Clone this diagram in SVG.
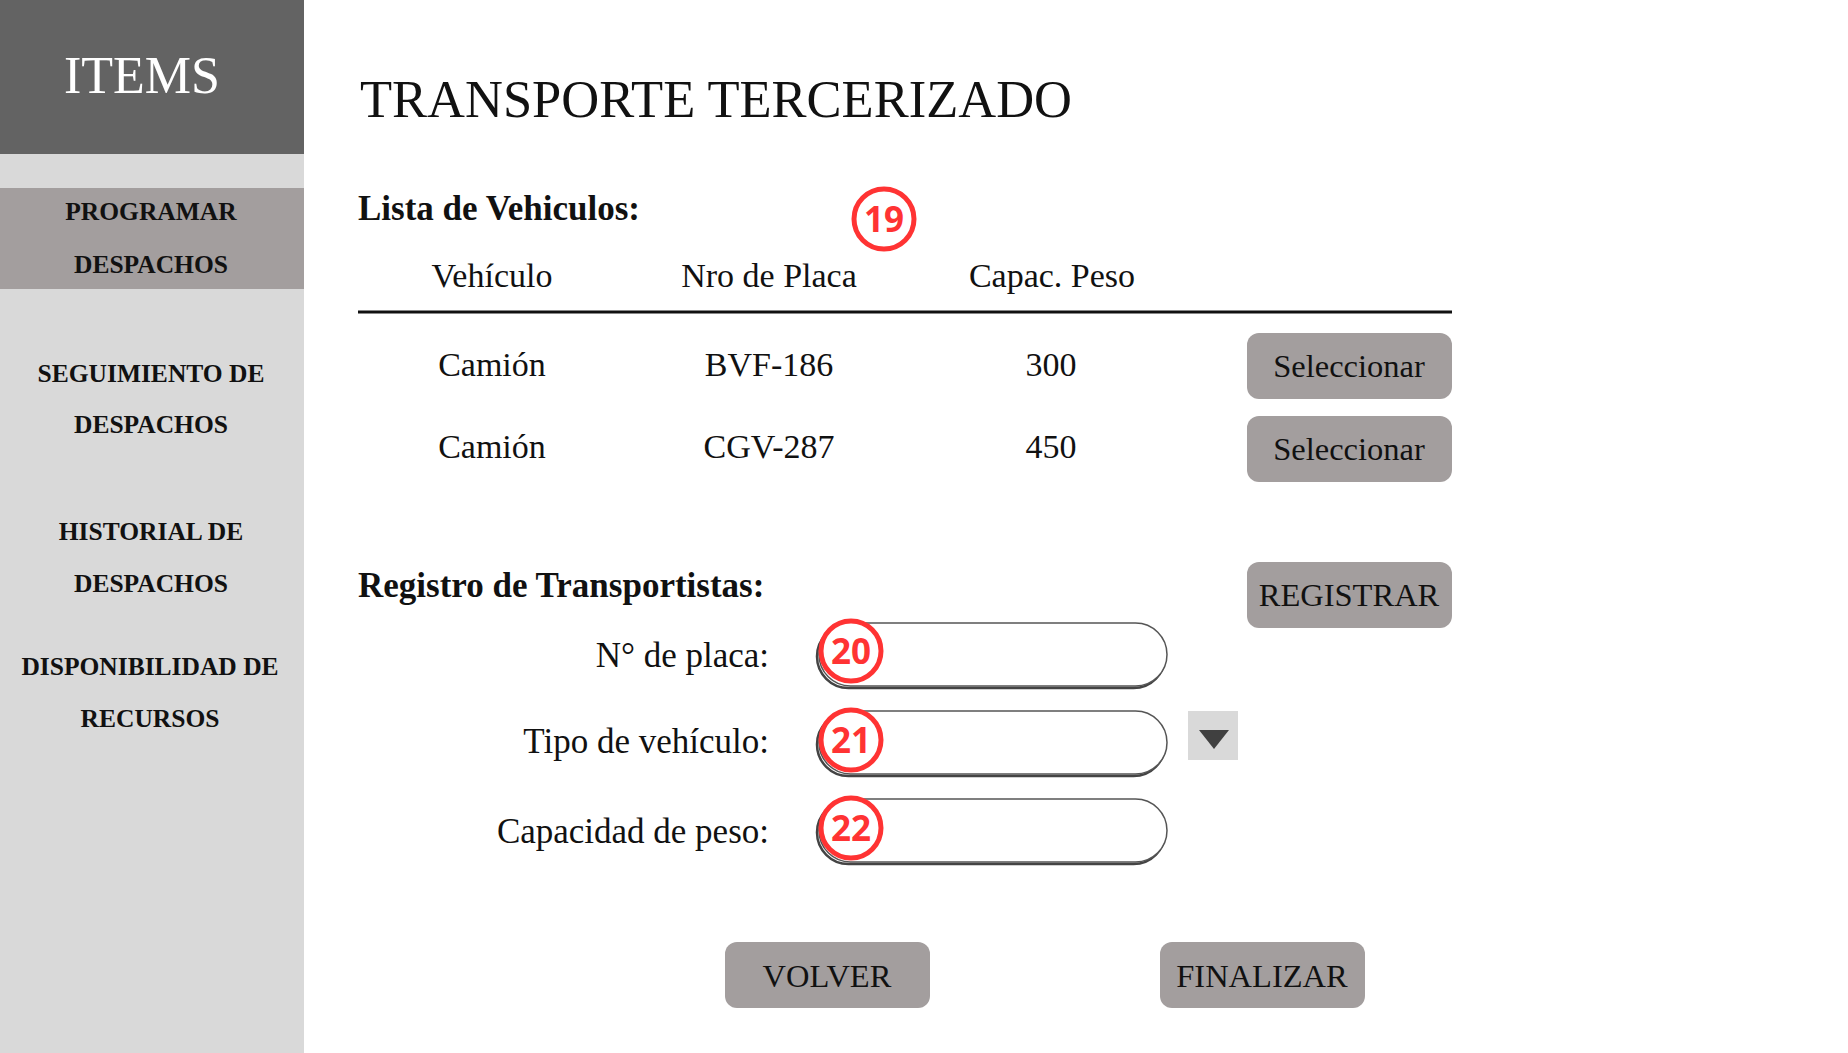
<svg xmlns="http://www.w3.org/2000/svg" width="1848" height="1053" viewBox="0 0 1848 1053">
<style>
.serif{font-family:"Liberation Serif","DejaVu Serif",serif;fill:#111}
.side{font-family:"Liberation Serif","DejaVu Serif",serif;font-weight:bold;font-size:25.5px;fill:#111;text-anchor:middle}
.body{font-size:34px;text-anchor:middle}
.btn{fill:#a39e9e}
.btnt{font-family:"Liberation Serif","DejaVu Serif",serif;font-size:32.5px;fill:#111;text-anchor:middle}
.lbl{font-size:35px;text-anchor:end}
.inp{fill:#fff;stroke:#555;stroke-width:1.5}
.inps{fill:none;stroke:#444;stroke-width:2.5}
.badge{fill:#fff;stroke:#ff3333;stroke-width:5}
.badget{font-family:"Open Sans","Noto Sans","DejaVu Sans",sans-serif;font-weight:bold;font-size:35px;fill:#ff3333;text-anchor:middle}
</style>
<rect width="1848" height="1053" fill="#fff"/>
<g id="sidebar">
<rect x="0" y="0" width="304" height="1053" fill="#d9d9d9"/>
<rect x="0" y="0" width="304" height="154" fill="#636363"/>
<text x="142" y="93" class="serif" font-size="52" style="fill:#fff" text-anchor="middle">ITEMS</text>
<rect x="0" y="188" width="304" height="101" fill="#a39e9e"/>
<text x="151" y="220" class="side">PROGRAMAR</text>
<text x="151" y="273" class="side">DESPACHOS</text>
<text x="151" y="382" class="side">SEGUIMIENTO DE</text>
<text x="151" y="433" class="side">DESPACHOS</text>
<text x="151" y="540" class="side">HISTORIAL DE</text>
<text x="151" y="592" class="side">DESPACHOS</text>
<text x="150" y="675" class="side">DISPONIBILIDAD DE</text>
<text x="150" y="727" class="side">RECURSOS</text>
</g>
<g id="title">
<text x="360" y="117" class="serif" font-size="52.5">TRANSPORTE TERCERIZADO</text>
</g>
<g id="lista">
<text x="358" y="220" class="serif" font-size="35" font-weight="bold">Lista de Vehiculos:</text>
<text x="492" y="287" class="serif body">Vehículo</text>
<text x="769" y="287" class="serif body">Nro de Placa</text>
<text x="1052" y="287" class="serif body">Capac. Peso</text>
<line x1="358" y1="312" x2="1452" y2="312" stroke="#111" stroke-width="3"/>
<text x="492" y="376" class="serif body">Camión</text>
<text x="769" y="376" class="serif body">BVF-186</text>
<text x="1051" y="376" class="serif body">300</text>
<text x="492" y="458" class="serif body">Camión</text>
<text x="769" y="458" class="serif body">CGV-287</text>
<text x="1051" y="458" class="serif body">450</text>
</g>
<g id="btn-sel1"><rect x="1247" y="333" width="205" height="66" rx="12" class="btn"/><text x="1349" y="377" class="btnt" font-size="37">Seleccionar</text></g>
<g id="btn-sel2"><rect x="1247" y="416" width="205" height="66" rx="12" class="btn"/><text x="1349" y="460" class="btnt" font-size="37">Seleccionar</text></g>
<g id="badge19"><circle cx="884" cy="219" r="30" class="badge"/><text x="884" y="232" class="badget">19</text></g>
<g id="registro">
<text x="358" y="597" class="serif" font-size="35" font-weight="bold">Registro de Transportistas:</text>
<text x="769" y="667" class="serif lbl">N° de placa:</text>
<text x="769" y="753" class="serif lbl">Tipo de vehículo:</text>
<text x="769" y="843" class="serif lbl">Capacidad de peso:</text>
</g>
<g id="btn-registrar"><rect x="1247" y="562" width="205" height="66" rx="12" class="btn"/><text x="1349" y="606" class="btnt" font-size="33">REGISTRAR</text></g>
<g id="input-placa">
<rect x="817" y="625" width="348" height="63" rx="31.5" class="inps"/>
<rect x="819" y="623" width="348" height="63" rx="31.5" class="inp"/>
</g>
<g id="input-tipo">
<rect x="817" y="713" width="348" height="63" rx="31.5" class="inps"/>
<rect x="819" y="711" width="348" height="63" rx="31.5" class="inp"/>
</g>
<g id="dropdown">
<rect x="1188" y="711" width="50" height="49" fill="#d9d9d9"/>
<polygon points="1199,730 1229,730 1214,749" fill="#404040"/>
</g>
<g id="input-peso">
<rect x="817" y="801" width="348" height="63" rx="31.5" class="inps"/>
<rect x="819" y="799" width="348" height="63" rx="31.5" class="inp"/>
</g>
<g id="badge20"><circle cx="851" cy="651" r="30" class="badge"/><text x="851" y="664" class="badget">20</text></g>
<g id="badge21"><circle cx="851" cy="740" r="30" class="badge"/><text x="851" y="753" class="badget">21</text></g>
<g id="badge22"><circle cx="851" cy="828" r="30" class="badge"/><text x="851" y="841" class="badget">22</text></g>
<g id="btn-volver"><rect x="725" y="942" width="205" height="66" rx="12" class="btn"/><text x="827" y="987" class="btnt">VOLVER</text></g>
<g id="btn-finalizar"><rect x="1160" y="942" width="205" height="66" rx="12" class="btn"/><text x="1262" y="987" class="btnt">FINALIZAR</text></g>
<g id="connectors"></g>
</svg>
